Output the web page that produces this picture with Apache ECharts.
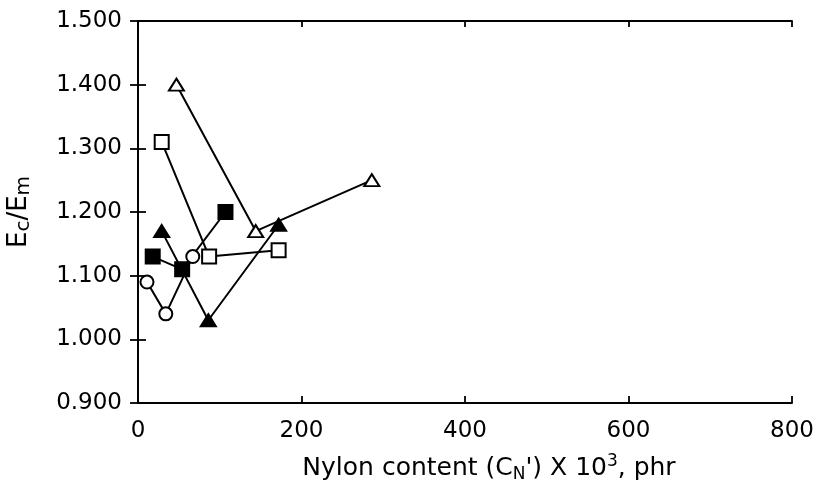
<!DOCTYPE html>
<html>
<head>
<meta charset="utf-8">
<script src="https://cdn.jsdelivr.net/npm/echarts@6/dist/echarts.min.js"></script>
<style>
  html, body { margin: 0; padding: 0; background: #fff; }
  #chart { width: 819px; height: 486px; }
</style>
</head>
<body>
<div id="chart"></div>
<script>
// values: x = nylon content (x10^3 phr), y = Ec/Em
var openTriX = [47, 144, 286];
var openTriY = [1.40, 1.17, 1.25];
var openSqX = [29, 87, 172];
var openSqY = [1.31, 1.13, 1.14];
var fillSqX = [18, 54, 107];
var fillSqY = [1.13, 1.11, 1.20];
var openCircX = [11, 34, 67];
var openCircY = [1.09, 1.04, 1.13];
var fillTriX = [29, 86, 172];
var fillTriY = [1.17, 1.03, 1.18];

var xTicks = [0, 200, 400, 600, 800];
var yTicks = [0.9, 1.0, 1.1, 1.2, 1.3, 1.4, 1.5];

var FONT = 'DejaVu Sans';

function pairs(xs, ys) {
    var out = [];
    for (var i = 0; i < xs.length; i++) out.push([xs[i], ys[i]]);
    return out;
}

// one line series per marker type
function mkSeries(xs, ys, symbol, size, filled) {
    return {
        type: 'line',
        data: pairs(xs, ys),
        symbol: symbol,
        symbolSize: size,
        showAllSymbol: true,
        animation: false,
        lineStyle: { color: '#000', width: 2 },
        itemStyle: {
            color: filled ? '#000' : '#fff',
            borderColor: '#000',
            borderWidth: 2,
            opacity: 1
        },
        emphasis: { disabled: true }
    };
}

var axisLn = { show: true, lineStyle: { color: '#000', width: 1.8 } };
function tick(len) {
    return { show: true, inside: true, length: len, lineStyle: { color: '#000', width: 1.8 } };
}

var chart = echarts.init(document.getElementById('chart'), null, { renderer: 'canvas' });

var option = {
    backgroundColor: '#fff',
    animation: false,
    grid: { left: 138, right: 27, top: 21, bottom: 83, outerBoundsMode: 'none', containLabel: false },
    xAxis: [{
        type: 'value',
        position: 'bottom',
        min: xTicks[0],
        max: xTicks[xTicks.length - 1],
        interval: 200,
        axisLine: axisLn,
        axisTick: tick(7),
        splitLine: { show: false },
        axisLabel: { color: '#000', fontFamily: FONT, fontSize: 23, margin: 17 },
        name: '{n|Nylon content (C}{sub|N}{n|\') X 10}{sup|3}{n|, phr}',
        nameLocation: 'middle',
        nameGap: 50,
        nameTextStyle: {
            padding: [0, 0, 0, 48],
            rich: {
                n: { fontFamily: FONT, fontSize: 25, color: '#000', lineHeight: 30 },
                sub: { fontFamily: FONT, fontSize: 17, color: '#000', lineHeight: 15, verticalAlign: 'bottom' },
                sup: { fontFamily: FONT, fontSize: 17, color: '#000', lineHeight: 15, verticalAlign: 'top' }
            }
        }
    }, {
        type: 'value',
        position: 'top',
        min: xTicks[0],
        max: xTicks[xTicks.length - 1],
        interval: 200,
        axisLine: axisLn,
        axisTick: tick(6),
        axisLabel: { show: false },
        splitLine: { show: false }
    }],
    yAxis: [{
        type: 'value',
        position: 'left',
        min: yTicks[0],
        max: yTicks[yTicks.length - 1],
        interval: 0.1,
        axisLine: axisLn,
        axisTick: tick(8),
        splitLine: { show: false },
        axisLabel: {
            color: '#000', fontFamily: FONT, fontSize: 23, margin: 16,
            formatter: function (v) { return v.toFixed(3); }
        },
        name: '{n|E}{sub|c}{n|/E}{sub|m}',
        nameLocation: 'middle',
        nameRotate: 90,
        nameGap: 104,
        nameTextStyle: {
            rich: {
                n: { fontFamily: FONT, fontSize: 26, color: '#000', lineHeight: 30 },
                sub: { fontFamily: FONT, fontSize: 20, color: '#000', lineHeight: 15, verticalAlign: 'bottom' }
            }
        }
    }, {
        type: 'value',
        position: 'right',
        min: yTicks[0],
        max: yTicks[yTicks.length - 1],
        interval: 0.1,
        axisLine: axisLn,
        axisTick: tick(8),
        axisLabel: { show: false },
        splitLine: { show: false }
    }],
    series: [
        mkSeries(openCircX, openCircY, 'circle', 13, false),
        mkSeries(openSqX, openSqY, 'rect', 14, false),
        mkSeries(openTriX, openTriY, 'triangle', [15, 12], false),
        mkSeries(fillSqX, fillSqY, 'rect', 14, true),
        mkSeries(fillTriX, fillTriY, 'triangle', [15, 12], true)
    ]
};

chart.setOption(option);
</script>
</body>
</html>
